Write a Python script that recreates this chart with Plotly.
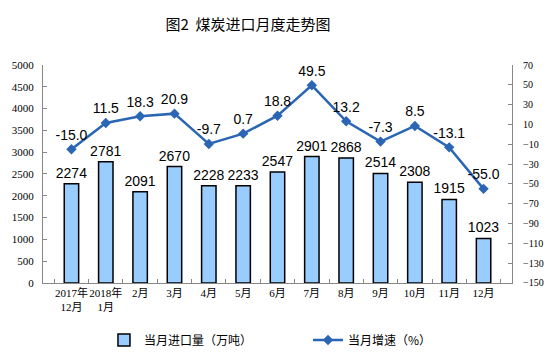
import plotly.graph_objects as go

categories = ["2017年<br>12月", "2018年<br>1月", "2月", "3月", "4月", "5月", "6月",
              "7月", "8月", "9月", "10月", "11月", "12月"]
imports = [2274, 2781, 2091, 2670, 2228, 2233, 2547, 2901, 2868, 2514, 2308, 1915, 1023]
growth = [-15.0, 11.5, 18.3, 20.9, -9.7, 0.7, 18.8, 49.5, 13.2, -7.3, 8.5, -13.1, -55.0]
left_ticks = list(range(0, 5001, 500))
right_ticks = list(range(-150, 71, 20))

fig = go.Figure()
fig.add_trace(go.Bar(
    x=categories, y=imports, name="当月进口量（万吨）", legend="legend",
    marker=dict(color="#99CCFF", line=dict(color="#000000", width=1.5)),
    text=[str(v) for v in imports], textposition="outside", cliponaxis=False,
    constraintext="none",
    textfont=dict(family="Liberation Sans, Arial", size=14, color="#000000"),
))
fig.add_trace(go.Scatter(
    x=categories, y=growth, name="当月增速（%）", yaxis="y2", legend="legend2",
    mode="lines+markers+text",
    line=dict(color="#2A66B4", width=2.5),
    marker=dict(symbol="diamond", size=8, color="#2A66B4"),
    text=[f"{v:.1f}" for v in growth], textposition="top center", cliponaxis=False,
    textfont=dict(family="Liberation Sans, Arial", size=14, color="#000000"),
))

legend_font = dict(family="Noto Sans CJK SC", size=12, color="#000000")
fig.update_layout(
    width=556, height=356, autosize=False,
    margin=dict(l=42, r=37, t=65, b=67, pad=0),
    paper_bgcolor="white", plot_bgcolor="white",
    title=dict(text="图2  煤炭进口月度走势图", x=0.446, xanchor="center", y=0.93, yanchor="middle",
               font=dict(family="Noto Sans CJK SC", size=15, color="#000000")),
    bargap=0.58,
    showlegend=True,
    legend=dict(x=0.13, xanchor="left", y=0.045, yref="container", yanchor="middle",
                font=legend_font, itemwidth=30, bgcolor="rgba(0,0,0,0)"),
    legend2=dict(x=0.565, xanchor="left", y=0.045, yref="container", yanchor="middle",
                 font=legend_font, itemwidth=30, bgcolor="rgba(0,0,0,0)"),
    xaxis=dict(type="category", showline=True, linecolor="#888888", linewidth=1,
               ticks="inside", tickson="boundaries", ticklen=4, tickcolor="#888888",
               showgrid=False, tickangle=0,
               tickfont=dict(family="Liberation Serif, Noto Sans CJK SC", size=11, color="#000000")),
    yaxis=dict(range=[0, 5000], tickvals=left_ticks, showline=True, linecolor="#888888",
               ticks="inside", ticklen=4, tickcolor="#888888", showgrid=False, zeroline=False,
               ticklabelstandoff=6,
               tickfont=dict(family="Liberation Serif", size=11, color="#000000")),
    yaxis2=dict(range=[-150, 70], tickvals=right_ticks, overlaying="y", side="right",
                showline=True, linecolor="#888888", ticks="inside", ticklen=4, tickcolor="#888888",
                showgrid=False, zeroline=False, ticklabelstandoff=8,
                tickfont=dict(family="Liberation Serif", size=10, color="#000000")),
)

fig.write_html("out.html", config={"displayModeBar": False, "responsive": False},
               post_script="document.body.style.margin='0';")
